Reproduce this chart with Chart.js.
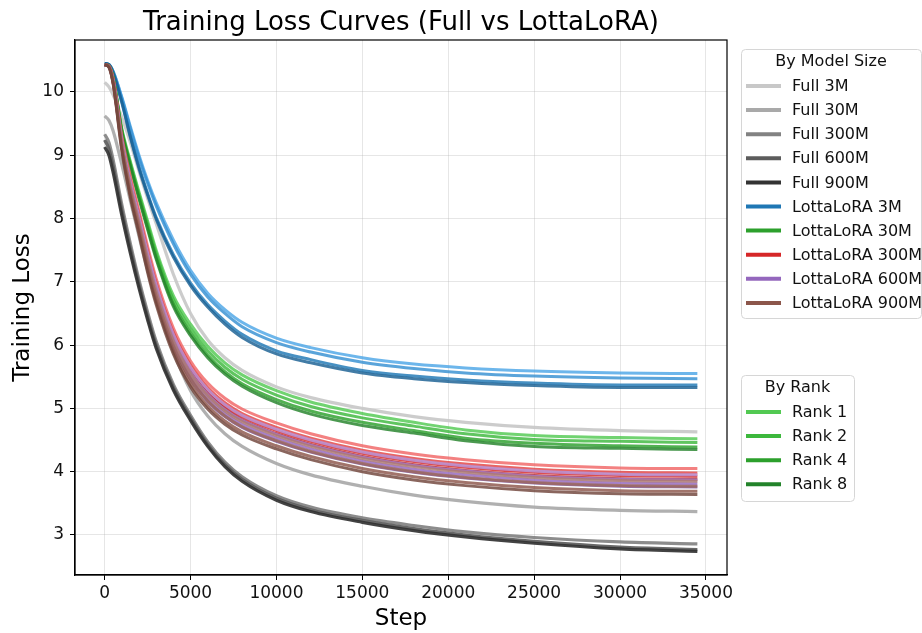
<!DOCTYPE html>
<html>
<head>
<meta charset="utf-8">
<title>Training Loss Curves</title>
<script src="https://cdn.jsdelivr.net/npm/chart.js@4.4.1/dist/chart.umd.min.js"></script>
<style>
  html, body { margin: 0; padding: 0; background: #ffffff; }
  #wrap { position: relative; width: 922px; height: 633px; }
</style>
</head>
<body>
<div id="wrap"><canvas id="chart"></canvas></div>
<script>
// ---- data -------------------------------------------------------------
const STEPS = [0, 250, 500, 1000, 1500, 2000, 2500, 3000, 4000, 5000, 6000, 7000, 8000, 10000, 12000, 15000, 18000, 21000, 25000, 30000, 34500];

const X_TICKS = [0, 5000, 10000, 15000, 20000, 25000, 30000, 35000];
const Y_TICKS = [3, 4, 5, 6, 7, 8, 9, 10];

const MODEL_SIZES = ['3M', '30M', '300M', '600M', '900M'];
const RANKS = [1, 2, 4, 8];

// Full fine-tuning
const full3M   = [10.15, 10.08, 9.95, 9.60, 9.20, 8.75, 8.32, 7.92, 7.12, 6.50, 6.08, 5.80, 5.60, 5.34, 5.17, 5.00, 4.87, 4.78, 4.70, 4.65, 4.63];
const full30M  = [9.62, 9.55, 9.38, 8.85, 8.28, 7.72, 7.18, 6.70, 5.90, 5.28, 4.88, 4.60, 4.40, 4.13, 3.95, 3.77, 3.63, 3.53, 3.44, 3.39, 3.37];
const full300M = [9.33, 9.20, 8.92, 8.22, 7.60, 7.03, 6.52, 6.06, 5.38, 4.89, 4.47, 4.15, 3.92, 3.62, 3.44, 3.27, 3.15, 3.05, 2.96, 2.89, 2.86];
const full600M = [9.24, 9.10, 8.82, 8.13, 7.52, 6.96, 6.45, 6.00, 5.33, 4.85, 4.43, 4.11, 3.88, 3.58, 3.40, 3.23, 3.10, 3.00, 2.90, 2.81, 2.77];
const full900M = [9.13, 9.00, 8.72, 8.05, 7.45, 6.90, 6.40, 5.95, 5.29, 4.81, 4.40, 4.08, 3.85, 3.55, 3.37, 3.20, 3.07, 2.97, 2.87, 2.78, 2.74];

// LottaLoRA 3M
const lora3M_r1 = [10.44, 10.43, 10.32, 9.92, 9.45, 9.00, 8.60, 8.25, 7.66, 7.18, 6.82, 6.56, 6.36, 6.11, 5.96, 5.80, 5.70, 5.64, 5.59, 5.56, 5.55];
const lora3M_r2 = [10.44, 10.43, 10.32, 9.90, 9.42, 8.96, 8.56, 8.20, 7.60, 7.12, 6.76, 6.50, 6.29, 6.04, 5.89, 5.73, 5.63, 5.56, 5.51, 5.48, 5.47];
const lora3M_r4 = [10.45, 10.43, 10.30, 9.85, 9.30, 8.82, 8.40, 8.02, 7.43, 6.98, 6.64, 6.38, 6.17, 5.91, 5.77, 5.60, 5.51, 5.45, 5.40, 5.37, 5.37];
const lora3M_r8 = [10.45, 10.43, 10.30, 9.83, 9.28, 8.79, 8.37, 7.99, 7.39, 6.94, 6.60, 6.33, 6.12, 5.86, 5.72, 5.56, 5.47, 5.41, 5.36, 5.33, 5.33];

// LottaLoRA 30M
const lora30M_r1 = [10.43, 10.41, 10.22, 9.42, 8.90, 8.42, 7.96, 7.50, 6.78, 6.33, 5.98, 5.72, 5.53, 5.28, 5.10, 4.92, 4.78, 4.66, 4.57, 4.54, 4.52];
const lora30M_r2 = [10.43, 10.41, 10.22, 9.40, 8.87, 8.38, 7.91, 7.45, 6.72, 6.26, 5.91, 5.65, 5.46, 5.21, 5.03, 4.85, 4.72, 4.60, 4.51, 4.48, 4.46];
const lora30M_r4 = [10.43, 10.41, 10.21, 9.38, 8.84, 8.34, 7.86, 7.39, 6.65, 6.19, 5.84, 5.58, 5.39, 5.14, 4.96, 4.78, 4.65, 4.53, 4.45, 4.41, 4.39];
const lora30M_r8 = [10.43, 10.41, 10.21, 9.37, 8.82, 8.31, 7.83, 7.36, 6.61, 6.15, 5.80, 5.54, 5.35, 5.09, 4.91, 4.73, 4.61, 4.49, 4.40, 4.37, 4.35];

// LottaLoRA 300M
const lora300M_r1 = [10.43, 10.41, 10.20, 9.30, 8.66, 8.12, 7.56, 7.05, 6.27, 5.75, 5.40, 5.16, 4.99, 4.77, 4.60, 4.41, 4.28, 4.19, 4.11, 4.06, 4.05];
const lora300M_r2 = [10.43, 10.41, 10.19, 9.26, 8.60, 8.06, 7.49, 6.98, 6.20, 5.68, 5.33, 5.09, 4.92, 4.70, 4.53, 4.34, 4.21, 4.12, 4.04, 3.99, 3.98];
const lora300M_r4 = [10.43, 10.40, 10.18, 9.23, 8.56, 8.01, 7.44, 6.93, 6.15, 5.63, 5.28, 5.04, 4.87, 4.65, 4.48, 4.29, 4.16, 4.07, 3.99, 3.94, 3.93];
const lora300M_r8 = [10.43, 10.40, 10.17, 9.21, 8.52, 7.97, 7.39, 6.88, 6.10, 5.58, 5.23, 4.99, 4.82, 4.60, 4.43, 4.24, 4.11, 4.02, 3.94, 3.89, 3.88];

// LottaLoRA 600M
const lora600M_r1 = [10.43, 10.40, 10.18, 9.25, 8.58, 8.03, 7.46, 6.95, 6.17, 5.65, 5.30, 5.06, 4.89, 4.67, 4.50, 4.31, 4.18, 4.09, 4.01, 3.96, 3.95];
const lora600M_r2 = [10.43, 10.40, 10.16, 9.20, 8.52, 7.96, 7.38, 6.87, 6.09, 5.57, 5.22, 4.98, 4.81, 4.59, 4.42, 4.23, 4.10, 4.01, 3.93, 3.88, 3.87];
const lora600M_r4 = [10.43, 10.40, 10.15, 9.17, 8.47, 7.90, 7.32, 6.81, 6.03, 5.51, 5.16, 4.92, 4.75, 4.53, 4.36, 4.17, 4.04, 3.95, 3.87, 3.82, 3.81];
const lora600M_r8 = [10.43, 10.40, 10.14, 9.14, 8.43, 7.86, 7.27, 6.76, 5.98, 5.46, 5.11, 4.87, 4.70, 4.48, 4.31, 4.12, 3.99, 3.90, 3.82, 3.77, 3.76];

// LottaLoRA 900M
const lora900M_r1 = [10.43, 10.40, 10.16, 9.19, 8.50, 7.94, 7.36, 6.85, 6.07, 5.55, 5.20, 4.96, 4.79, 4.57, 4.40, 4.21, 4.08, 3.99, 3.91, 3.86, 3.85];
const lora900M_r2 = [10.43, 10.40, 10.14, 9.15, 8.44, 7.87, 7.28, 6.77, 5.99, 5.47, 5.12, 4.88, 4.71, 4.49, 4.32, 4.13, 4.00, 3.91, 3.83, 3.78, 3.77];
const lora900M_r4 = [10.43, 10.39, 10.13, 9.10, 8.37, 7.80, 7.20, 6.69, 5.91, 5.39, 5.04, 4.80, 4.63, 4.41, 4.24, 4.05, 3.92, 3.83, 3.75, 3.70, 3.69];
const lora900M_r8 = [10.43, 10.39, 10.12, 9.07, 8.33, 7.75, 7.15, 6.64, 5.86, 5.34, 4.99, 4.75, 4.58, 4.36, 4.19, 4.00, 3.87, 3.78, 3.70, 3.65, 3.64];

const FULL_SERIES = [full3M, full30M, full300M, full600M, full900M];
const LORA_SERIES = [
  [lora3M_r1, lora3M_r2, lora3M_r4, lora3M_r8],
  [lora30M_r1, lora30M_r2, lora30M_r4, lora30M_r8],
  [lora300M_r1, lora300M_r2, lora300M_r4, lora300M_r8],
  [lora600M_r1, lora600M_r2, lora600M_r4, lora600M_r8],
  [lora900M_r1, lora900M_r2, lora900M_r4, lora900M_r8]
];

// ---- styling ----------------------------------------------------------
const FULL_COLORS = ['#c8c8c8', '#a9a9a9', '#828282', '#5c5c5c', '#333333'];
// per size: rank 1, 2, 4, 8 (light -> dark)
const LORA_COLORS = [
  ['#4da6e6', '#3690d2', '#1f77b4', '#195f92'],
  ['#52c952', '#3db83d', '#2ca02c', '#23832a'],
  ['#f06565', '#e34242', '#d62728', '#b21f20'],
  ['#b796dc', '#a47ece', '#9467bd', '#7a529e'],
  ['#ae7b6f', '#9d685b', '#8c564b', '#70443b']
];
const LINE_ALPHA = 0.82;
const FONT = '"DejaVu Sans", "Liberation Sans", sans-serif';

function withAlpha(hex, a) {
  const n = parseInt(hex.slice(1), 16);
  return `rgba(${(n >> 16) & 255},${(n >> 8) & 255},${n & 255},${a})`;
}
function toPoints(values) {
  return STEPS.map((s, i) => ({ x: s, y: values[i] }));
}

const datasets = [];
FULL_SERIES.forEach((vals, i) => {
  datasets.push({
    label: 'Full ' + MODEL_SIZES[i],
    data: toPoints(vals),
    borderColor: withAlpha(FULL_COLORS[i], 0.92),
    borderWidth: 3.2
  });
});
LORA_SERIES.forEach((group, i) => {
  group.forEach((vals, j) => {
    datasets.push({
      label: 'LottaLoRA ' + MODEL_SIZES[i] + ' r' + RANKS[j],
      data: toPoints(vals),
      borderColor: withAlpha(LORA_COLORS[i][j], LINE_ALPHA),
      borderWidth: 3
    });
  });
});
// later series sit on top of earlier ones
datasets.forEach((d, i) => {
  d.order = -i;
  d.pointRadius = 0;
  d.fill = false;
  d.cubicInterpolationMode = 'monotone';
});

// ---- legends, title, frame --------------------------------------------
function roundRect(ctx, x, y, w, h, r) {
  ctx.beginPath();
  ctx.moveTo(x + r, y);
  ctx.lineTo(x + w - r, y);
  ctx.quadraticCurveTo(x + w, y, x + w, y + r);
  ctx.lineTo(x + w, y + h - r);
  ctx.quadraticCurveTo(x + w, y + h, x + w - r, y + h);
  ctx.lineTo(x + r, y + h);
  ctx.quadraticCurveTo(x, y + h, x, y + h - r);
  ctx.lineTo(x, y + r);
  ctx.quadraticCurveTo(x, y, x + r, y);
  ctx.closePath();
}

function drawLegend(ctx, box, title, entries) {
  ctx.save();
  roundRect(ctx, box.x + 0.5, box.y + 0.5, box.w, box.h, 4);
  ctx.fillStyle = 'rgba(255,255,255,0.85)';
  ctx.fill();
  ctx.strokeStyle = '#d6d6d6';
  ctx.lineWidth = 1;
  ctx.stroke();
  ctx.fillStyle = '#111';
  ctx.font = '16px ' + FONT;
  ctx.textBaseline = 'middle';
  ctx.textAlign = 'center';
  ctx.fillText(title, box.x + box.w / 2, box.y + 13);
  ctx.textAlign = 'left';
  entries.forEach((e, i) => {
    const y = box.y + 37 + i * 24.1;
    ctx.strokeStyle = e.color;
    ctx.lineWidth = 4;
    ctx.beginPath();
    ctx.moveTo(box.x + 5, y);
    ctx.lineTo(box.x + 40, y);
    ctx.stroke();
    ctx.fillStyle = '#111';
    ctx.fillText(e.label, box.x + 51, y + 1);
  });
  ctx.restore();
}

const decorations = {
  id: 'decorations',
  afterDraw(chart) {
    const { ctx, chartArea: a } = chart;
    ctx.save();
    // axes frame
    ctx.strokeStyle = '#000';
    ctx.lineWidth = 1.2;
    ctx.strokeRect(a.left, a.top, a.right - a.left, a.bottom - a.top);

    ctx.fillStyle = '#000';
    ctx.textAlign = 'center';
    ctx.textBaseline = 'middle';
    ctx.font = '26px ' + FONT;
    ctx.fillText('Training Loss Curves (Full vs LottaLoRA)', (a.left + a.right) / 2, 23);
    ctx.font = '23px ' + FONT;
    ctx.fillText('Step', (a.left + a.right) / 2, 619);
    ctx.translate(23, (a.top + a.bottom) / 2);
    ctx.rotate(-Math.PI / 2);
    ctx.fillText('Training Loss', 0, 0);
    ctx.restore();

    const sizeEntries = [];
    MODEL_SIZES.forEach((s, i) => sizeEntries.push({ label: 'Full ' + s, color: FULL_COLORS[i] }));
    MODEL_SIZES.forEach((s, i) => sizeEntries.push({ label: 'LottaLoRA ' + s, color: LORA_COLORS[i][2] }));
    drawLegend(ctx, { x: 741, y: 49, w: 180, h: 269 }, 'By Model Size', sizeEntries);

    const rankEntries = RANKS.map((r, j) => ({ label: 'Rank ' + r, color: LORA_COLORS[1][j] }));
    drawLegend(ctx, { x: 741, y: 375, w: 113, h: 126 }, 'By Rank', rankEntries);
  }
};

// ---- chart ------------------------------------------------------------
Chart.defaults.font.family = FONT;
Chart.defaults.font.size = 17;
Chart.defaults.color = '#111';

new Chart(document.getElementById('chart'), {
  type: 'line',
  data: { datasets },
  options: {
    responsive: true,
    maintainAspectRatio: false,
    animation: false,
    layout: { padding: { left: 0, right: 195, top: 40, bottom: 0 } },
    plugins: { legend: { display: false }, tooltip: { enabled: false }, title: { display: false } },
    elements: { line: { tension: 0.4 } },
    scales: {
      x: {
        type: 'linear',
        min: -1725,
        max: 36225,
        afterBuildTicks: (scale) => { scale.ticks = X_TICKS.map(v => ({ value: v })); },
        afterFit: (scale) => { scale.height = 58; },
        ticks: { padding: 3, maxRotation: 0, autoSkip: false, color: '#111', font: { size: 17 },
                 callback: (v) => String(v) },
        grid: { color: 'rgba(176,176,176,0.32)', lineWidth: 1, tickColor: '#000', tickLength: 5, drawTicks: true },
        border: { display: true, color: '#000', width: 1.2 }
      },
      y: {
        type: 'linear',
        min: 2.368,
        max: 10.82,
        afterBuildTicks: (scale) => { scale.ticks = Y_TICKS.map(v => ({ value: v })); },
        afterFit: (scale) => { scale.width = 75; },
        ticks: { padding: 6, color: '#111', font: { size: 17 }, callback: (v) => String(v) },
        grid: { color: 'rgba(176,176,176,0.32)', lineWidth: 1, tickColor: '#000', tickLength: 5, drawTicks: true },
        border: { display: true, color: '#000', width: 1.2 }
      }
    }
  },
  plugins: [decorations]
});
</script>
</body>
</html>
